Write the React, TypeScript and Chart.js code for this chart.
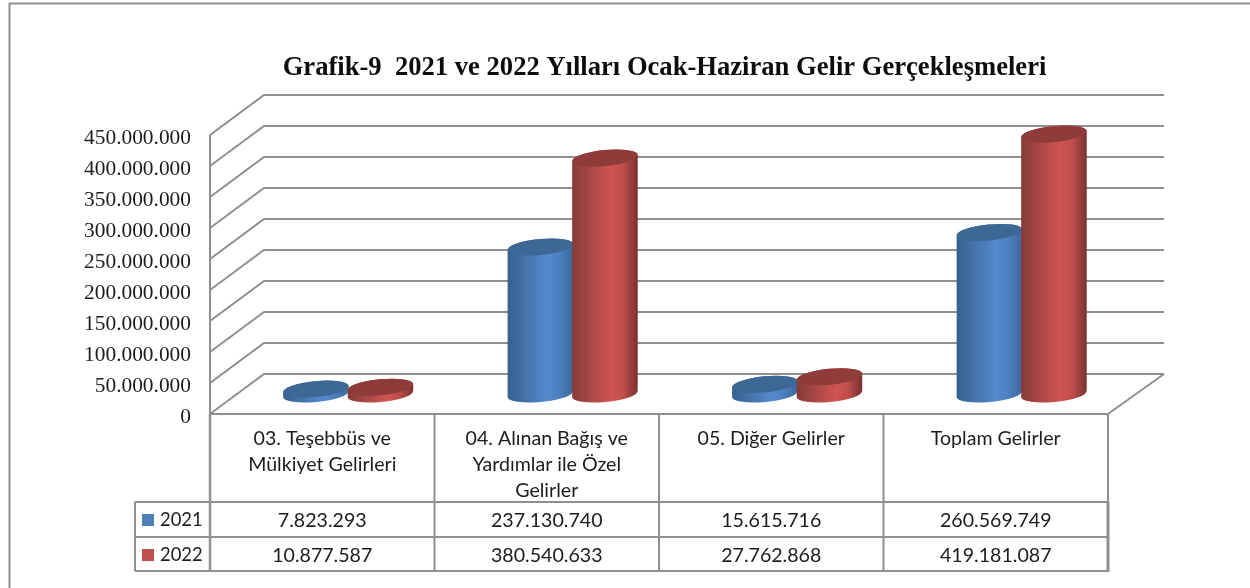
import React, { useEffect, useRef } from "react";
import { Chart, registerables } from "chart.js";

Chart.register(...registerables);

const titleText = "Grafik-9  2021 ve 2022 Yılları Ocak-Haziran Gelir Gerçekleşmeleri";
const categories = [
  ["03. Teşebbüs ve", "Mülkiyet Gelirleri"],
  ["04. Alınan Bağış ve", "Yardımlar ile Özel", "Gelirler"],
  ["05. Diğer Gelirler"],
  ["Toplam Gelirler"],
];
const seriesNames = ["2021", "2022"];
const values2021 = [7823293, 237130740, 15615716, 260569749];
const values2022 = [10877587, 380540633, 27762868, 419181087];
const tableRows2021 = ["7.823.293", "237.130.740", "15.615.716", "260.569.749"];
const tableRows2022 = ["10.877.587", "380.540.633", "27.762.868", "419.181.087"];
const yTickLabels = [
  "0", "50.000.000", "100.000.000", "150.000.000", "200.000.000",
  "250.000.000", "300.000.000", "350.000.000", "400.000.000", "450.000.000",
];
const seriesColors = ["#4f81bd", "#c0504d"];

const LINE = "#8f8f8f";
const TEXT = "#1c1c1c";
const TABLE_FONT = "19.6px Lato";
const DEPTH_X = 54;
const DEPTH_Y = 40;

const palettes = [
  { stops: ["#35608f", "#4675ad", "#5589cf", "#4d80c0", "#3c689c"], top: "#3d6795" },
  { stops: ["#863a39", "#ac4846", "#d05552", "#c04e4b", "#773130"], top: "#8f3b3a" },
];

function drawCylinder(ctx: CanvasRenderingContext2D, cx: number, baseY: number, topY: number, rx: number, series: number) {
  const ry = 8;
  const rot = (-5.5 * Math.PI) / 180;
  const p = palettes[series];
  const grad = ctx.createLinearGradient(cx - rx, 0, cx + rx, 0);
  const pos = [0, 0.3, 0.6, 0.78, 1];
  p.stops.forEach((c, i) => grad.addColorStop(pos[i], c));
  ctx.beginPath();
  ctx.ellipse(cx, baseY, rx, ry, rot, 0, Math.PI, false);
  ctx.ellipse(cx, topY, rx, ry, rot, Math.PI, 0, false);
  ctx.closePath();
  ctx.fillStyle = grad;
  ctx.fill();
  ctx.beginPath();
  ctx.ellipse(cx, topY, rx, ry, rot, 0, Math.PI * 2);
  ctx.fillStyle = p.top;
  ctx.fill();
}

function line(ctx: CanvasRenderingContext2D, x1: number, y1: number, x2: number, y2: number, w = 2) {
  ctx.beginPath();
  ctx.moveTo(x1, y1);
  ctx.lineTo(x2, y2);
  ctx.lineWidth = w;
  ctx.strokeStyle = LINE;
  ctx.stroke();
}

const scene3d = {
  id: "scene3d",
  afterLayout(chart: any) {
    // the title is centred a little right of the plot
    chart.titleBlock.left += 5.5;
    chart.titleBlock.right += 5.5;
  },
  beforeDatasetsDraw(chart: any) {
    const ctx: CanvasRenderingContext2D = chart.ctx;
    const { left, right, top, bottom } = chart.chartArea;
    const yScale = chart.scales.y;
    const xScale = chart.scales.x;
    ctx.save();
    ctx.lineCap = "butt";

    // outer frame
    line(ctx, 9, 3.5, 1250, 3.5);
    line(ctx, 9.5, 3, 9.5, 588);

    // walls and gridlines
    yScale.ticks.forEach((t: any) => {
      const y = yScale.getPixelForValue(t.value);
      ctx.beginPath();
      ctx.moveTo(left, y);
      ctx.lineTo(left + DEPTH_X, y - DEPTH_Y);
      ctx.lineTo(right + DEPTH_X + 2, y - DEPTH_Y);
      ctx.lineWidth = 2;
      ctx.strokeStyle = LINE;
      ctx.stroke();
    });
    line(ctx, left, top, left, bottom);
    line(ctx, right, bottom, right + DEPTH_X + 2, bottom - DEPTH_Y);

    // data table
    const rowLines = [bottom, 502, 537, 571];
    rowLines.forEach((y, i) => line(ctx, i === 0 ? left : 135, y, right + 1, y));
    line(ctx, 135, 502, 135, 571);
    const n = categories.length;
    for (let i = 0; i <= n; i++) {
      const x = left + ((right - left) * i) / n;
      line(ctx, x, bottom, x, 571, i === 0 ? 2.5 : 2);
    }
    line(ctx, right, 502, right, 572, 3);

    ctx.font = TABLE_FONT;
    ctx.fillStyle = TEXT;
    ctx.textBaseline = "middle";
    ctx.textAlign = "center";
    const rows = [tableRows2021, tableRows2022];
    const rowY = [520, 555];
    rows.forEach((row, r) => {
      row.forEach((txt, i) => {
        ctx.fillText(txt, xScale.getPixelForValue(i), rowY[r] + 1);
      });
      ctx.fillStyle = seriesColors[r];
      ctx.fillRect(142, rowY[r] - 6, 12, 12);
      ctx.fillStyle = TEXT;
      ctx.textAlign = "left";
      ctx.font = "18.4px Lato";
      ctx.fillText(seriesNames[r], 160, rowY[r]);
      ctx.font = TABLE_FONT;
      ctx.textAlign = "center";
    });

    // cylinders, from the library's bar elements
    const meta0 = chart.getDatasetMeta(0).data;
    const meta1 = chart.getDatasetMeta(1).data;
    const ox = DEPTH_X * 0.48;
    const oy = DEPTH_Y * 0.5;
    for (let i = 0; i < n; i++) {
      [meta0[i], meta1[i]].forEach((el: any, s: number) => {
        drawCylinder(ctx, el.x + ox, el.base - oy, el.y - oy, el.width / 2, s);
      });
    }
    ctx.restore();
    return false;
  },
};

export default function App() {
  const ref = useRef<HTMLCanvasElement>(null);
  useEffect(() => {
    const chart = new Chart(ref.current!, {
      type: "bar",
      data: {
        labels: categories as any,
        datasets: [
          { label: seriesNames[0], data: values2021, backgroundColor: seriesColors[0] },
          { label: seriesNames[1], data: values2022, backgroundColor: seriesColors[1] },
        ],
      },
      options: {
        responsive: false,
        animation: false,
        layout: { autoPadding: false, padding: { left: 0, right: 142, top: 0, bottom: 0 } },
        datasets: { bar: { categoryPercentage: 0.575, barPercentage: 1.02 } },
        plugins: {
          legend: { display: false },
          tooltip: { enabled: false },
          title: {
            display: true,
            text: titleText,
            fullSize: false,
            color: "#0d0d0d",
            font: { family: "Liberation Serif", size: 26.6, weight: "bold", lineHeight: 1.2 },
            padding: { top: 52, bottom: 51.1 },
          },
        },
        scales: {
          x: {
            grid: { display: false, drawTicks: false },
            border: { display: false },
            afterFit: (s: any) => { s.height = 174; },
            ticks: {
              maxRotation: 0,
              minRotation: 0,
              autoSkip: false,
              padding: 12,
              color: TEXT,
              font: { family: "Lato", size: 19.6, lineHeight: 1.33 },
            },
          },
          y: {
            min: 0,
            max: 450000000,
            grid: { display: false, drawTicks: false },
            border: { display: false },
            afterFit: (s: any) => { s.width = 210; },
            ticks: {
              stepSize: 50000000,
              padding: 19,
              labelOffset: 3,
              color: TEXT,
              font: { family: "Liberation Serif", size: 21.4 },
              callback: (_v: any, i: number) => yTickLabels[i],
            },
          },
        },
      } as any,
      plugins: [scene3d as any],
    });
    return () => chart.destroy();
  }, []);
  return (
    <div style={{ position: "fixed", left: 0, top: 0, width: 1250, height: 588, background: "#fff" }}>
      <canvas ref={ref} width={1250} height={588} style={{ display: "block" }} />
    </div>
  );
}
